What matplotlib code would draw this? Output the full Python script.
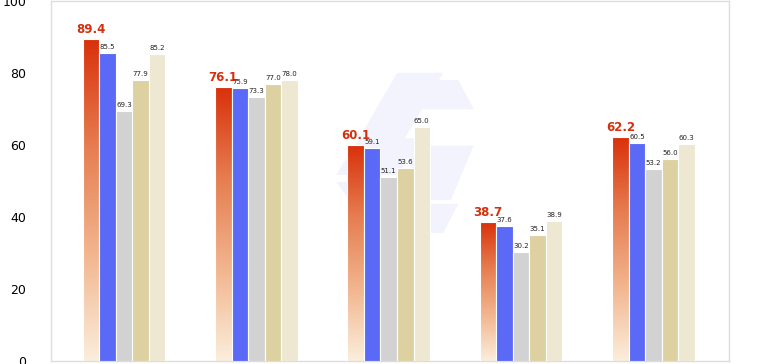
import numpy as np
import matplotlib
matplotlib.use("Agg")
import matplotlib.pyplot as plt
from matplotlib.colors import LinearSegmentedColormap
from matplotlib.patches import Polygon

# values per group, one list per series
groups = ["G1", "G2", "G3", "G4", "G5"]
series_a = [89.4, 76.1, 60.1, 38.7, 62.2]
series_b = [85.5, 75.9, 59.1, 37.6, 60.5]
series_c = [69.3, 73.3, 51.1, 30.2, 53.2]
series_d = [77.9, 77.0, 53.6, 35.1, 56.0]
series_e = [85.2, 78.0, 65.0, 38.9, 60.3]
y_ticks = [0, 20, 40, 60, 80, 100]

colors = ["#d9300a", "#5b6af6", "#d2d2d2", "#ddd1a1", "#eee8d2"]
grad = LinearSegmentedColormap.from_list(
    "grad", ["#fbeedc", "#f2b58e", "#e67d50", "#d9300a"])

fig = plt.figure(figsize=(7.64, 3.64), dpi=100)

# faint watermark logo on its own axes, behind the chart
bg = fig.add_axes([0, 0, 1, 1], zorder=0)
bg.set_xlim(0, 1)
bg.set_ylim(0, 1)
bg.axis("off")
wm = "#f2f3fc"
logo = [
    [(0.47, 0.62), (0.52, 0.80), (0.58, 0.80), (0.53, 0.62)],
    [(0.53, 0.78), (0.60, 0.78), (0.62, 0.70), (0.55, 0.70)],
    [(0.44, 0.52), (0.47, 0.62), (0.55, 0.62), (0.52, 0.52)],
    [(0.53, 0.60), (0.62, 0.60), (0.59, 0.45), (0.55, 0.45)],
    [(0.44, 0.50), (0.50, 0.50), (0.55, 0.36), (0.49, 0.36)],
    [(0.51, 0.36), (0.58, 0.36), (0.60, 0.44), (0.56, 0.44)],
]
for pts in logo:
    bg.add_patch(Polygon(pts, closed=True, facecolor=wm, edgecolor="none"))

ax = fig.add_axes([0.067, 0.008, 0.887, 0.99], zorder=1)
ax.set_facecolor("none")

x = np.arange(len(groups))
w = 0.125
all_series = [series_a, series_b, series_c, series_d, series_e]
offsets = (np.arange(5) - 2) * w

for i, vals in enumerate(all_series):
    xs = x + offsets[i]
    if i == 0:
        bars = ax.bar(xs, vals, w, color="none", edgecolor="white", linewidth=0.8, zorder=3)
        for b in bars:
            h = b.get_height()
            img = ax.imshow(np.linspace(0, 1, 256).reshape(-1, 1), cmap=grad,
                            origin="lower", aspect="auto",
                            extent=[b.get_x(), b.get_x() + w, 0, h], zorder=2)
            img.set_clip_path(b)
        for xi, v in zip(xs, vals):
            ax.text(xi, v + 0.8, f"{v:.1f}", ha="center", va="bottom",
                    fontsize=8.5, fontweight="bold", color="#d3300e", zorder=4)
    else:
        ax.bar(xs, vals, w, color=colors[i], edgecolor="white", linewidth=0.8, zorder=3)
        for xi, v in zip(xs, vals):
            ax.text(xi, v + 0.8, f"{v:.1f}", ha="center", va="bottom",
                    fontsize=5, color="#222222", zorder=4)

ax.set_xlim(-0.55, 4.57)
ax.set_ylim(0, 100)
ax.set_yticks(y_ticks)
ax.set_xticks([])
ax.tick_params(axis="y", length=0, labelsize=9, pad=18)
for s in ax.spines.values():
    s.set_color("#dddddd")
    s.set_linewidth(1)

fig.savefig("out.png", dpi=100)
